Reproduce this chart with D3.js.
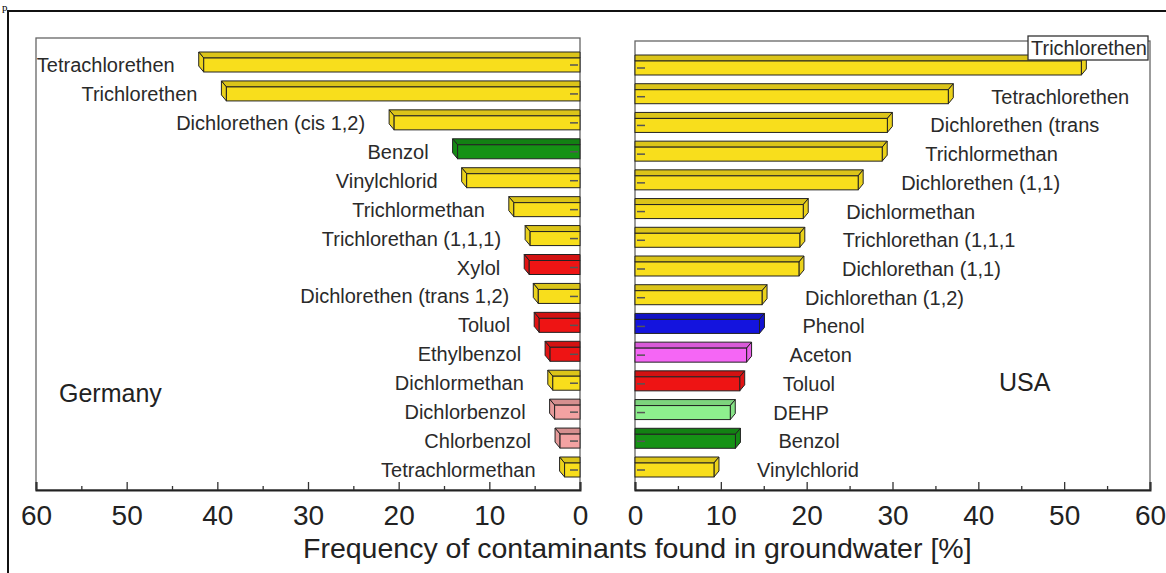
<!DOCTYPE html>
<html>
<head>
<meta charset="utf-8">
<script src="https://cdn.jsdelivr.net/npm/d3@7"></script>
<style>
body{margin:0;background:#fff;}
text{font-family:"Liberation Sans",Arial,sans-serif;}
</style>
</head>
<body>
<script>
var germanyNames = ['Tetrachlorethen','Trichlorethen','Dichlorethen (cis 1,2)','Benzol','Vinylchlorid',
	'Trichlormethan','Trichlorethan (1,1,1)','Xylol','Dichlorethen (trans 1,2)','Toluol',
	'Ethylbenzol','Dichlormethan','Dichlorbenzol','Chlorbenzol','Tetrachlormethan'];
var germanyValues = [41.5,39,20.5,13.5,12.5,7.3,5.5,5.6,4.6,4.5,3.3,3.0,2.8,2.2,1.7];

var usaNames = ['Trichlorethen','Tetrachlorethen','Dichlorethen (trans','Trichlormethan','Dichlorethen (1,1)',
	'Dichlormethan','Trichlorethan (1,1,1','Dichlorethan (1,1)','Dichlorethan (1,2)','Phenol',
	'Aceton','Toluol','DEHP','Benzol','Vinylchlorid'];
var usaValues = [52,36.5,29.4,28.8,26,19.6,19.2,19.1,14.8,14.5,13,12.2,11.1,11.7,9.2];

var majorTicks = [0,10,20,30,40,50,60];
var minorTicks = [5,15,25,35,45,55];
var axisTitle = 'Frequency of contaminants found in groundwater [%]';

// colours by substance, anything else is the yellow of the chlorinated ones
var colorOf = {
	'Benzol':'#159215','Toluol':'#ee1414','Xylol':'#ee1414','Ethylbenzol':'#ee1414',
	'Dichlorbenzol':'#f3a2a2','Chlorbenzol':'#f3a2a2','Phenol':'#1414de',
	'Aceton':'#f566f5','DEHP':'#8ef08e'
};
function fillFor(name){ return colorOf[name] || '#f8de1c'; }

var svg = d3.select('body').append('svg')
	.attr('width',1166)
	.attr('height',573);

// outer frame and the stray letter above it
svg.append('text').attr('x',2).attr('y',11)
	.style('font-family','"Liberation Serif",serif').style('font-size','11px')
	.text('p');
svg.append('rect').attr('x',8).attr('y',11).attr('width',1200).attr('height',600)
	.attr('fill','none').attr('stroke','#111').attr('stroke-width',2);

var xL = d3.scaleLinear().domain([0,60]).range([580,36]);
var xR = d3.scaleLinear().domain([0,60]).range([635,1150]);
var yL = d3.scalePoint().domain(germanyNames).range([62,467]);
var yR = d3.scalePoint().domain(usaNames).range([65,467]);

var axisY = 490;
var barH = 20, depthY = 6, depthX = 5;

function panel(x, y, names, values, dir, top, labelGap){
	var x0 = x(0), x60 = x(60);
	var g = svg.append('g');
	g.append('rect')
		.attr('x',Math.min(x0,x60)).attr('y',top)
		.attr('width',Math.abs(x60-x0)).attr('height',axisY-top)
		.attr('fill','none').attr('stroke','#666').attr('stroke-width',1.3);

	var rows = g.selectAll('g.row')
		.data(names.map(function(n,i){ return {name:n,value:values[i]}; }))
		.enter().append('g').attr('class','row');

	rows.each(function(d){
		var r = d3.select(this);
		var x1 = x(d.value);
		var yt = y(d.name) - barH/2 + depthY;   // top of front face
		var yb = y(d.name) + barH/2;
		var fill = fillFor(d.name);
		var dx = dir*depthX;
		r.append('polygon')
			.attr('points',[[x0,yt],[x0,yt-depthY],[x1+dx,yt-depthY],[x1,yt]].join(' '))
			.attr('fill',d3.color(fill).darker(0.35)).attr('stroke','#222').attr('stroke-width',1);
		r.append('polygon')
			.attr('points',[[x1,yt],[x1+dx,yt-depthY],[x1+dx,yb-depthY],[x1,yb]].join(' '))
			.attr('fill',d3.color(fill).darker(0.15)).attr('stroke','#222').attr('stroke-width',1);
		r.append('rect')
			.attr('x',Math.min(x0,x1)).attr('y',yt)
			.attr('width',Math.abs(x1-x0)).attr('height',yb-yt)
			.attr('fill',fill).attr('stroke','#222').attr('stroke-width',1);
		r.append('line')
			.attr('x1',x0+dir*2).attr('x2',x0+dir*10)
			.attr('y1',(yt+yb)/2).attr('y2',(yt+yb)/2)
			.attr('stroke','#555').attr('stroke-width',1.5);

		var tx = x1 + dx + dir*labelGap;
		var t = r.append('text')
			.attr('x',tx).attr('y',(yt+yb)/2)
			.attr('dy','0.35em')
			.attr('text-anchor',dir<0 ? 'end' : 'start')
			.attr('fill','#2a2a2a').style('font-size','20px')
			.text(d.name);
		// label that runs out of the panel goes boxed into the top corner
		if(dir>0 && tx + t.node().getComputedTextLength() > x60){
			t.attr('text-anchor','end').attr('x',x60-3).attr('y',top+7);
			var bb = t.node().getBBox();
			r.insert('rect','text')
				.attr('x',bb.x-3).attr('y',bb.y-1)
				.attr('width',bb.width+4).attr('height',bb.height+2)
				.attr('fill','#fff').attr('stroke','#333').attr('stroke-width',1.3);
		}
	});

	var major = g.append('g').attr('transform','translate(0,'+axisY+')')
		.call(d3.axisBottom(x).tickValues(majorTicks).tickSize(-8).tickPadding(15).tickFormat(d3.format('d')));
	major.select('.domain').attr('stroke','#222').attr('stroke-width',2);
	major.selectAll('.tick line').attr('stroke','#333').attr('stroke-width',1.3);
	major.selectAll('.tick text').attr('fill','#222')
		.style('font-family','"Liberation Sans",Arial,sans-serif').style('font-size','28px');

	var minor = g.append('g').attr('transform','translate(0,'+axisY+')')
		.call(d3.axisBottom(x).tickValues(minorTicks).tickSize(-4).tickFormat(''));
	minor.select('.domain').remove();
	minor.selectAll('.tick line').attr('stroke','#333').attr('stroke-width',1.3);
}

panel(xL, yL, germanyNames, germanyValues, -1, 38, 24);
panel(xR, yR, usaNames, usaValues, 1, 41, 38);

svg.append('text').attr('x',59).attr('y',393).attr('dy','0.35em')
	.attr('fill','#222').style('font-size','25px').text('Germany');
svg.append('text').attr('x',999).attr('y',382).attr('dy','0.35em')
	.attr('fill','#222').style('font-size','25px').text('USA');

svg.append('text').attr('x',303).attr('y',558)
	.attr('fill','#222').style('font-size','28.5px').text(axisTitle);
</script>
</body>
</html>
